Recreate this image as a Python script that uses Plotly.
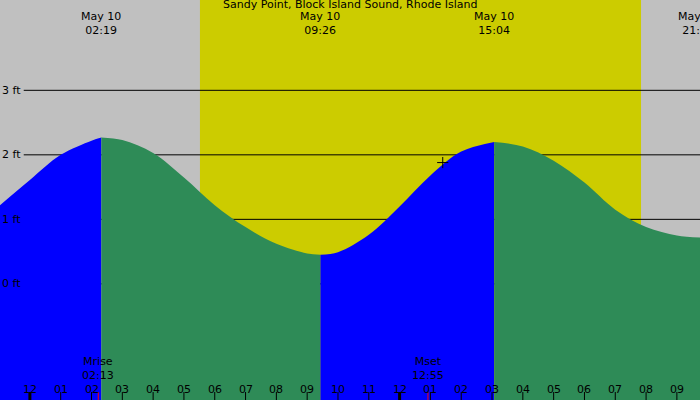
import plotly.graph_objects as go

# tide heights (ft), hours from midnight May 10
times = [-0.97, 0, 1, 2, 2.32, 3, 4, 5, 6, 7, 8, 9, 9.43, 10, 11, 12, 13, 14, 15.07,
         16, 17, 18, 19, 20, 21, 21.75]
heights = [1.22, 1.61, 2.0, 2.22, 2.27, 2.23, 2.03, 1.65, 1.22, 0.88, 0.62, 0.47, 0.45, 0.49,
           0.76, 1.20, 1.68, 2.05, 2.2, 2.13, 1.91, 1.57, 1.15, 0.88, 0.75, 0.72]
# indices where tide turns (segment boundaries)
turns = [0, 4, 12, 18, 25]
seg_colors = ["#0000ff", "#2e8b57", "#0000ff", "#2e8b57"]

extreme_t = [2.32, 9.43, 15.07, 21.7]
extreme_lbl = ["May 10<br>02:19", "May 10<br>09:26", "May 10<br>15:04", "May 10<br>21:42"]
sunrise, sunset = 5.52, 19.84
moon_t = [2.22, 12.92]
moon_lbl = ["Mrise<br>02:13", "Mset<br>12:55"]
hour_ticks = list(range(-1, 22))
hour_lbls = ["%02d" % (((h - 1) % 12) + 1) for h in hour_ticks]
hour_lbls[0] = "11"
ft_levels = [0, 1, 2, 3]

x0, x1, ybot, ytop = -0.97, 21.75, -1.8, 4.4
fig = go.Figure()

for i in range(4):
    a, b = turns[i], turns[i + 1]
    xs = times[a:b + 1]
    ys = heights[a:b + 1]
    fig.add_trace(go.Scatter(x=[xs[0], xs[-1]], y=[ybot, ybot], mode="lines",
                             line=dict(width=0), showlegend=False, hoverinfo="skip"))
    fig.add_trace(go.Scatter(x=xs, y=ys, mode="lines", line=dict(width=0, shape="spline"),
                             fill="tonexty", fillcolor=seg_colors[i], showlegend=False))

shapes = [
    dict(type="rect", xref="x", yref="paper", x0=x0, x1=sunrise, y0=0, y1=1,
         fillcolor="#c0c0c0", line_width=0, layer="below"),
    dict(type="rect", xref="x", yref="paper", x0=sunrise, x1=sunset, y0=0, y1=1,
         fillcolor="#cccc00", line_width=0, layer="below"),
    dict(type="rect", xref="x", yref="paper", x0=sunset, x1=x1, y0=0, y1=1,
         fillcolor="#c0c0c0", line_width=0, layer="below"),
]
for f in ft_levels:
    shapes.append(dict(type="line", xref="x", yref="y", x0=-0.2, x1=x1, y0=f, y1=f,
                       line=dict(color="black", width=1), layer="below"))
for h in hour_ticks:
    thick = 3 if h in (0, 12) else 1
    shapes.append(dict(type="line", xref="x", yref="paper", x0=h, x1=h, y0=0, y1=0.02,
                       line=dict(color="black", width=thick)))
for m in moon_t:
    shapes.append(dict(type="line", xref="x", yref="paper", x0=m, x1=m, y0=0, y1=0.02,
                       line=dict(color="red", width=1)))

ann = [dict(x=0.5, y=1, xref="paper", yref="paper", yanchor="top", showarrow=False,
            text="Sandy Point, Block Island Sound, Rhode Island", yshift=4)]
for t, l in zip(extreme_t, extreme_lbl):
    ann.append(dict(x=t, y=1, xref="x", yref="paper", yanchor="top", showarrow=False,
                    text=l, yshift=-8))
for t, l in zip(moon_t, moon_lbl):
    ann.append(dict(x=t, y=0, xref="x", yref="paper", yanchor="bottom", showarrow=False,
                    text=l, yshift=16))
for h, l in zip(hour_ticks, hour_lbls):
    ann.append(dict(x=h, y=0, xref="x", yref="paper", yanchor="bottom", showarrow=False,
                    text=l, yshift=2))
for f in ft_levels:
    ann.append(dict(x=0, y=f, xref="paper", yref="y", xanchor="left", showarrow=False,
                    text="%d ft" % f, xshift=0))

fig.add_trace(go.Scatter(x=[13.4], y=[1.88], mode="markers",
                         marker=dict(symbol="cross-thin", size=8, line=dict(color="black", width=1)),
                         showlegend=False))

fig.update_layout(width=700, height=400, margin=dict(l=0, r=0, t=0, b=0),
                  plot_bgcolor="#c0c0c0", paper_bgcolor="#c0c0c0",
                  font=dict(family="DejaVu Sans", size=11, color="black"),
                  shapes=shapes, annotations=ann,
                  xaxis=dict(range=[x0, x1], visible=False),
                  yaxis=dict(range=[ybot, ytop], visible=False))
fig.write_html("out.html", config={"displayModeBar": False},
               post_script="document.body.style.margin='0';")
